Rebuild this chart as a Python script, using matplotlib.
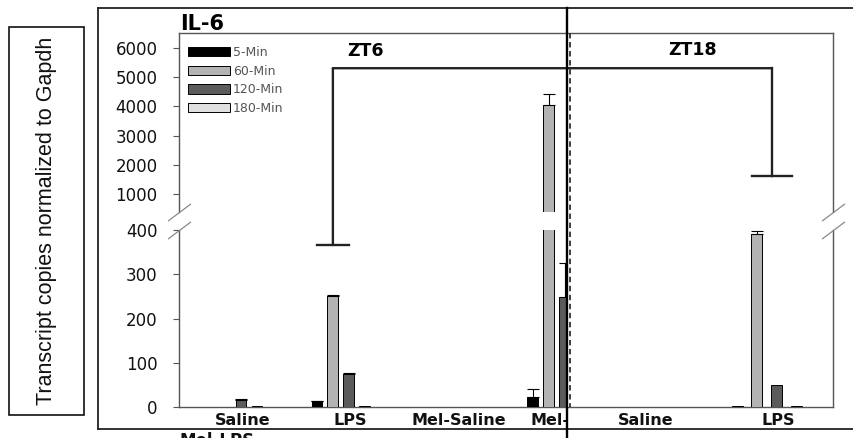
import numpy as np
import matplotlib
matplotlib.use("Agg")
import matplotlib.pyplot as plt
from matplotlib.patches import Rectangle, ConnectionPatch
from matplotlib.lines import Line2D

# IL-6 transcript levels (copies normalized to Gapdh), one list per time point
zt6_groups = ["Saline", "LPS", "Mel-Saline", "Mel-LPS"]
zt18_groups = ["Saline", "LPS"]
times = ["5-Min", "60-Min", "120-Min", "180-Min"]

zt6_5min = [0, 13, 0, 23]
zt6_60min = [1, 250, 0, 4040]
zt6_120min = [16, 75, 1, 249]
zt6_180min = [2, 3, 0, np.nan]
zt6_5min_err = [0, 1, 0, 18]
zt6_60min_err = [0, 2, 0, 375]
zt6_120min_err = [2, 2, 0, 76]
zt6_180min_err = [0, 0, 0, 0]

zt18_5min = [0, 2]
zt18_60min = [0, 392]
zt18_120min = [0, 50]
zt18_180min = [0, 2]
zt18_5min_err = [0, 0]
zt18_60min_err = [0, 6]
zt18_120min_err = [0, 0]
zt18_180min_err = [0, 0]

# significance bracket: LPS ZT6 vs LPS ZT18
bracket_top = 5300
bracket_left_end = 366
bracket_right_end = 1625

colors = ["#000000", "#b3b3b3", "#5b5b5b", "#e0e0e0"]
slot = 0.148

W, H = 854, 438
plt.rcParams["font.family"] = ["DejaVu Sans"]
fig = plt.figure(figsize=(W / 100, H / 100), dpi=100)


def fx(px):
    return px / W


def fy(py):
    return 1 - py / H


def panel(left, right, top, bottom):
    return fig.add_axes([fx(left), fy(bottom), (right - left) / W, (bottom - top) / H])


ax6_top = panel(179, 567.5, 33, 212)
ax6_bot = panel(179, 567.5, 230, 407)
ax18_top = panel(567.5, 833, 33, 212)
ax18_bot = panel(567.5, 833, 230, 407)


def draw_bars(ax, series, errors, width, floor=0):
    # floor: lower end of this axis segment; caps below it are skipped
    handles = []
    x = np.arange(len(series[0]))
    for i, (vals, errs) in enumerate(zip(series, errors)):
        pos = x + (i - 1.5) * slot
        b = ax.bar(pos, vals, width, color=colors[i], edgecolor="black",
                   linewidth=0.7, label=times[i], zorder=3)
        handles.append(b)
        v = np.asarray(vals, dtype=float)
        errs = np.asarray(errs, dtype=float)
        keep = (errs > 0) & (v + errs > floor)
        if keep.any():
            ax.errorbar(pos[keep], v[keep], yerr=[np.zeros(keep.sum()), errs[keep]],
                        fmt="none", ecolor="black", elinewidth=0.8,
                        capsize=4, capthick=0.8, zorder=4)
    return handles


zt6_series = [zt6_5min, zt6_60min, zt6_120min, zt6_180min]
zt6_errs = [zt6_5min_err, zt6_60min_err, zt6_120min_err, zt6_180min_err]
zt18_series = [zt18_5min, zt18_60min, zt18_120min, zt18_180min]
zt18_errs = [zt18_5min_err, zt18_60min_err, zt18_120min_err, zt18_180min_err]

handles = draw_bars(ax6_top, zt6_series, zt6_errs, 0.1, floor=400)
draw_bars(ax6_bot, zt6_series, zt6_errs, 0.1)
draw_bars(ax18_top, zt18_series, zt18_errs, 0.082, floor=400)
draw_bars(ax18_bot, zt18_series, zt18_errs, 0.082)

spine_col = "#555555"
for ax in (ax6_top, ax6_bot, ax18_top, ax18_bot):
    ax.set_xticks([])
    for s in ax.spines.values():
        s.set_color(spine_col)
        s.set_linewidth(1.0)
    ax.patch.set_alpha(0)

for ax in (ax6_top, ax6_bot):
    ax.set_xlim(-0.5, 3.1)
    ax.spines["right"].set_visible(False)
for ax in (ax18_top, ax18_bot):
    ax.set_xlim(-0.5, 1.5)
    ax.spines["left"].set_visible(False)
    ax.set_yticks([])
for ax in (ax6_top, ax18_top):
    ax.set_ylim(400, 6500)
    ax.spines["bottom"].set_visible(False)
for ax in (ax6_bot, ax18_bot):
    ax.set_ylim(0, 400)
    ax.spines["top"].set_visible(False)

ax6_top.set_yticks([1000, 2000, 3000, 4000, 5000, 6000])
ax6_bot.set_yticks([0, 100, 200, 300, 400])
for ax in (ax6_top, ax6_bot):
    ax.tick_params(axis="y", direction="out", length=4.3, width=0.8,
                   color=spine_col, pad=11, labelsize=12, labelcolor="#111111")

# break marks on both sides of the y axis
brk = dict(marker=[(-1, -0.75), (1, 0.75)], markersize=16.5, linestyle="none",
           color="#8a8a8a", mec="#8a8a8a", mew=0.9, clip_on=False, zorder=5)
ax6_top.plot([0], [0], transform=ax6_top.transAxes, **brk)
ax6_bot.plot([0], [1], transform=ax6_bot.transAxes, **brk)
ax18_top.plot([1], [0], transform=ax18_top.transAxes, **brk)
ax18_bot.plot([1], [1], transform=ax18_bot.transAxes, **brk)

# category labels under each group; ZT6 labels stop at the panel divider
cut = Rectangle((0, 0), fx(567.5), 1, transform=fig.transFigure)
for ax, groups, clip in ((ax6_bot, zt6_groups, True), (ax18_bot, zt18_groups, False)):
    for i, name in enumerate(groups):
        t = ax.text(i + 0.09, -0.035, name, transform=ax.get_xaxis_transform(),
                    ha="center", va="top", fontsize=11.5, fontweight="bold",
                    color="#111111", clip_on=clip)
        if clip:
            t.set_clip_path(cut)

# bracket linking LPS at ZT6 with LPS at ZT18
x6 = zt6_groups.index("LPS") - 0.5 * slot
x18 = zt18_groups.index("LPS") + 0.04
br = dict(color="#222222", linewidth=1.7)
fig.add_artist(ConnectionPatch((x6, bracket_left_end), (x6, bracket_top),
                               coordsA=ax6_bot.transData, coordsB=ax6_top.transData,
                               arrowstyle="-", **br))
fig.add_artist(ConnectionPatch((x6, bracket_top), (x18, bracket_top),
                               coordsA=ax6_top.transData, coordsB=ax18_top.transData,
                               arrowstyle="-", **br))
ax6_bot.plot([x6 - 0.15, x6 + 0.15], [bracket_left_end] * 2, clip_on=False, **br)
ax18_top.plot([x18, x18], [bracket_top, bracket_right_end], clip_on=False, **br)
ax18_top.plot([x18 - 0.15, x18 + 0.15], [bracket_right_end] * 2, clip_on=False, **br)

fig.legend(handles=handles, labels=times, loc="upper left",
           bbox_to_anchor=(fx(188), fy(46)), frameon=False, fontsize=9,
           handlelength=3.36, handleheight=0.8, labelspacing=0.45,
           handletextpad=0.25, borderpad=0, borderaxespad=0, labelcolor="#555555")

fig.text(fx(180), fy(30), "IL-6", fontsize=15, fontweight="bold", ha="left", va="baseline")
fig.text(fx(366), fy(51), "ZT6", fontsize=12.5, fontweight="bold", ha="center", va="center")
fig.text(fx(693), fy(50), "ZT18", fontsize=12.5, fontweight="bold", ha="center", va="center")

# outer frame and panel divider
frame = dict(transform=fig.transFigure, color="#222222", linewidth=1.3)
fig.add_artist(Line2D([fx(98), 1], [fy(8), fy(8)], **frame))
fig.add_artist(Line2D([fx(98), fx(98)], [fy(8), fy(428.5)], **frame))
fig.add_artist(Line2D([fx(98), 1], [fy(428.5), fy(428.5)], **frame))
fig.add_artist(Line2D([fx(567.5), fx(567.5)], [fy(8), 0], transform=fig.transFigure,
                      color="black", linewidth=1.7))
fig.add_artist(Line2D([fx(570), fx(570)], [fy(33), fy(407)], transform=fig.transFigure,
                      color="#333333", linewidth=1.3, linestyle=(0, (3, 2))))

# next panel's label, running off the bottom edge
fig.text(fx(217), fy(432.5), "Mel-LPS", fontsize=12, fontweight="bold",
         ha="center", va="top", color="#111111")

# y-axis title in its own box
fig.add_artist(Rectangle((fx(9.5), fy(415)), fx(84.5) - fx(9.5), (415 - 27) / H,
                         transform=fig.transFigure, fill=False,
                         edgecolor="#111111", linewidth=1.2))
fig.text(fx(47), fy(221), "Transcript copies normalized to Gapdh", rotation=90,
         ha="center", va="center", fontsize=15.5, family="Liberation Sans",
         color="#111111")

fig.savefig("out.png", dpi=100, facecolor="white")
